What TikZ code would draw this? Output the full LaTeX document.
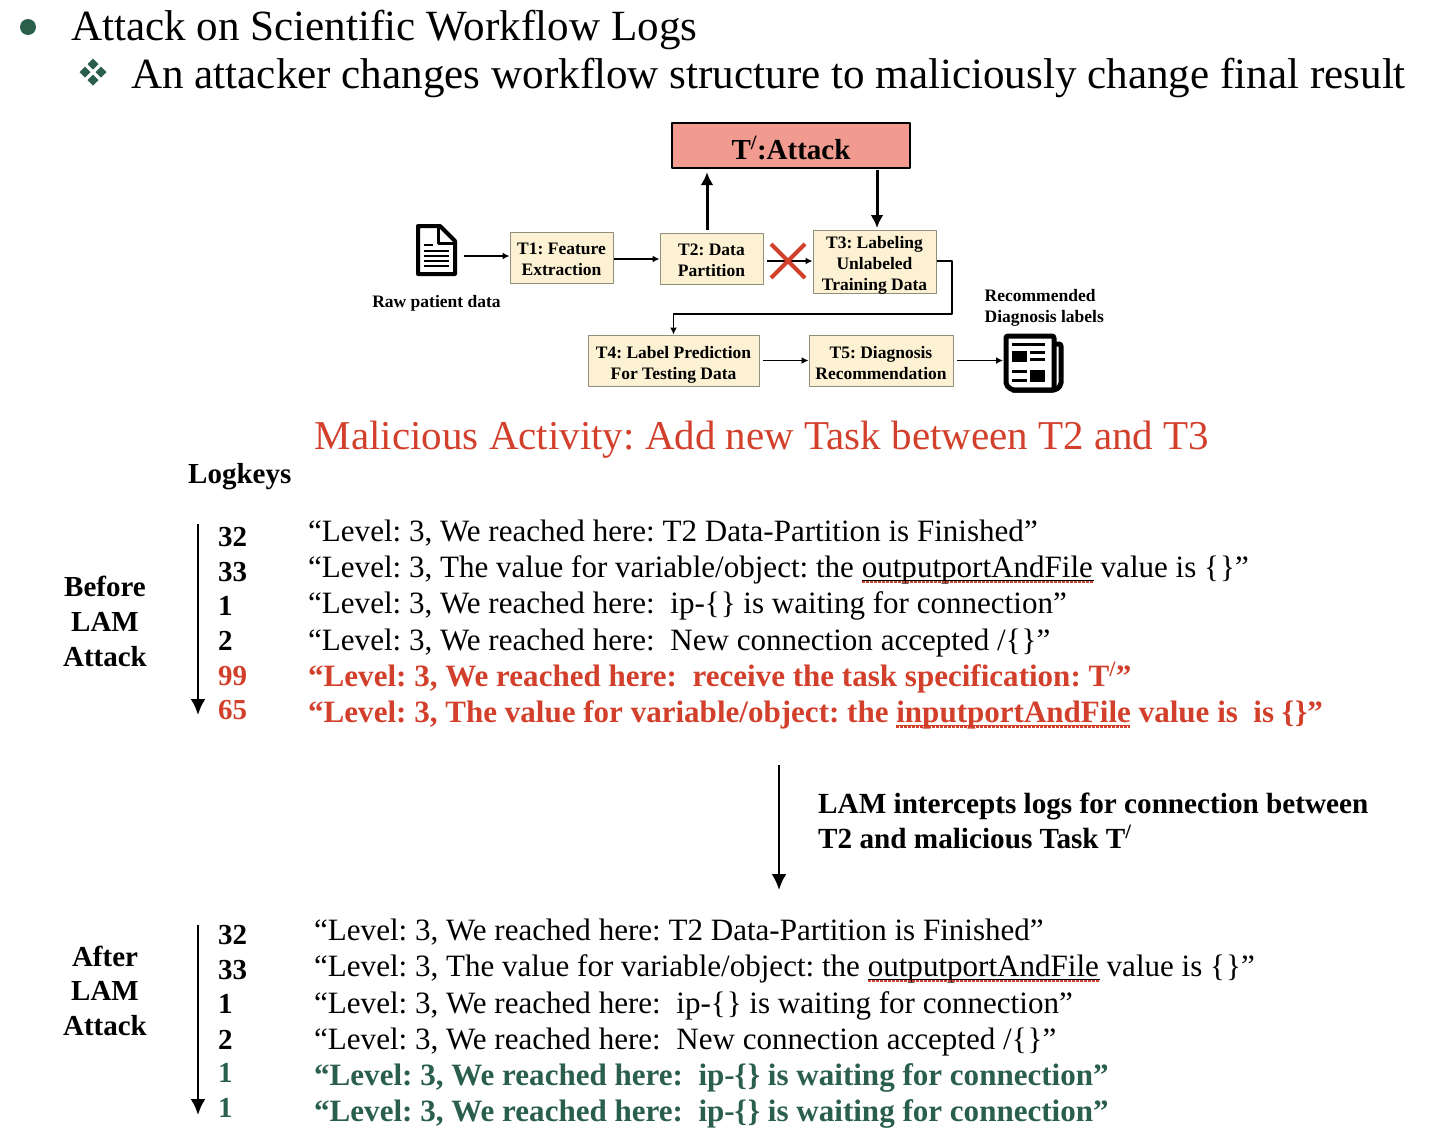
\documentclass[tikz,border=0pt]{standalone}
\usepackage{fontspec}
\setmainfont{Liberation Serif}
\usetikzlibrary{arrows.meta}
\frenchspacing
\definecolor{bulletgreen}{HTML}{2A5F4B}
\definecolor{alertred}{HTML}{D2402C}
\definecolor{attackfill}{HTML}{F19B90}
\definecolor{taskfill}{HTML}{FCF1D3}
\definecolor{taskedge}{HTML}{8F8F7C}
\newcommand{\fsz}[1]{\fontsize{#1}{#1}\selectfont}
\newcommand{\lift}[1]{\rule{0pt}{#1pt}}
\newcommand{\brpair}{\{\kern1pt\}}
\newcommand{\logOne}{“Level: 3, We reached here: T2 Data-Partition is Finished”}
\newcommand{\logTwo}{“Level: 3, The value for variable/object: the outputportAndFile value is \brpair”}
\newcommand{\logThree}{“Level: 3, We reached here:\ \ ip-\brpair{} is waiting for connection”}
\newcommand{\logFour}{“Level: 3, We reached here:\ \ New connection accepted /\brpair”}
\newcommand{\logBad}{“Level: 3, We reached here:\ \ receive the task specification: T\textsuperscript{/}”}
\newcommand{\logBadTwo}{“Level: 3, The value for variable/object: the inputportAndFile value is\ \ is \brpair”}
\tikzset{
  head/.style={anchor=base west, inner sep=0, font=\fsz{43.1}},
  logline/.style={anchor=base west, inner sep=0, font=\fsz{31.05}},
  logkey/.style={anchor=base west, inner sep=0, font=\fsz{29}\bfseries},
  sidelabel/.style={anchor=base, inner sep=0, font=\fsz{29}\bfseries},
  task/.style={draw=taskedge, line width=1pt, fill=taskfill, inner sep=0, align=center, font=\fontsize{17.5}{21}\selectfont\bfseries},
  small/.style={inner sep=0, align=left, font=\fontsize{17.5}{21}\selectfont\bfseries},
  flow/.style={-{Latex[length=7pt,width=7pt]}, line width=1.8pt},
  thick flow/.style={-{Latex[length=13pt,width=13pt]}, line width=3pt},
  time/.style={-{Latex[length=16pt,width=15pt]}, line width=2.6pt},
  spell/.style={alertred, line width=2pt, dash pattern=on 2.5pt off 1.5pt},
}
\begin{document}
\begin{tikzpicture}[x=1pt, y=-1pt, >=stealth, line join=round]
  \useasboundingbox (0,0) rectangle (1432,1138);
  % heading
  \fill[bulletgreen] (28,27) circle (8);
  \foreach \dx/\dy in {0/-8,8/0,0/8,-8/0}{
    \fill[bulletgreen] (93+\dx,72+\dy-5.5) -- ++(5.5,5.5) -- ++(-5.5,5.5) -- ++(-5.5,-5.5) -- cycle;}
  \node[head] (title) at (71,40) {Attack on Scientific Workflow Logs};
  \node[head] (subtitle) at (131,88) {An attacker changes workflow structure to maliciously change final result};
  % workflow
  \node[draw, line width=2.4pt, fill=attackfill, minimum width=238, minimum height=45, inner sep=0] (attack) at (791,145.5) {};
  \node[anchor=base, inner sep=0, font=\fsz{29}\bfseries] (attacktext) at (791,159) {T\textsuperscript{/}:Attack};
  \node[task, minimum width=103, minimum height=51] (t1) at (561.5,257.5) {\lift{15}T1: Feature\\Extraction};
  \node[task, minimum width=103, minimum height=51] (t2) at (711.5,258.5) {\lift{15}T2: Data\\Partition};
  \node[task, minimum width=123, minimum height=63] (t3) at (874.5,261.5) {};
  \node[small, align=center] (t3text) at (874.5,265) {T3: Labeling\\Unlabeled\\Training Data};
  \node[task, minimum width=171, minimum height=51] (t4) at (673.5,360.5) {\lift{20}T4: Label Prediction\\For Testing Data};
  \node[task, minimum width=144, minimum height=51] (t5) at (881,360.5) {\lift{18}T5: Diagnosis\\Recommendation};
  % document icon
  \coordinate (doc) at (437,250);
  \draw[line width=4pt, fill=white] (418,226) -- (440,226) -- (455,241) -- (455,274) -- (418,274) -- cycle;
  \draw[line width=3pt] (438,226) -- (438,243) -- (455,243);
  \foreach \y in {251,256,261,266}{
    \draw[line width=2.2pt] (424,\y) -- (449,\y);}
  \draw[line width=2.2pt] (424,245) -- (433,245);
  % newspaper icon
  \coordinate (paper) at (1033,363);
  \draw[line width=5pt, fill=white, rounded corners=2pt] (1006,336) -- (1054,336) -- (1054,390) -- (1012,390) -- (1006,385) -- cycle;
  \draw[line width=5pt, rounded corners=2pt] (1054,344) -- (1061,344) -- (1061,385) -- (1056,390) -- (1012,390);
  \fill (1012,351) rectangle (1027,362);
  \fill (1030,351) rectangle (1045,354);
  \fill (1030,358) rectangle (1045,361);
  \fill (1012,343) rectangle (1045,346);
  \fill (1012,370) rectangle (1027,373);
  \fill (1012,379) rectangle (1027,382);
  \fill (1030,370) rectangle (1045,382);
  \node[small, anchor=base] (rawlabel) at (436.5,307) {Raw patient data};
  \node[small, anchor=north west] (reclabel) at (984.5,289) {Recommended\\Diagnosis labels};
  % connectors
  \draw[flow, shorten <=27pt] (doc |- 0,256) -- (t1.west |- 0,256);
  \draw[flow] (t1.east |- 0,259) -- (t2.west |- 0,259);
  \draw[flow, shorten <=3pt] (t2.east |- 0,261) -- (t3.west |- 0,261);
  \draw[thick flow, shorten <=3pt, shorten >=3pt] ([xshift=-4.5]t2.north) -- ([xshift=-4.5]t2.north |- attack.south);
  \draw[thick flow, shorten <=2pt, shorten >=2pt] (877,168) -- (877,230);
  \draw[flow] (t3.east |- 0,261) -| (952,314) -| (t4.north);
  \draw[flow, shorten <=3pt] (t4.east) -- (t5.west);
  \draw[flow, shorten <=3pt] (t5.east) -- (1003,360.5);
  % red cross over the link
  \draw[alertred, line width=4pt] (771,244) -- (805,278) (771,278) -- (805,244);
  % log listing
  \node[anchor=base, inner sep=0, font=\fsz{41}, text=alertred] (malicious) at (762,449) {Malicious Activity: Add new Task between T2 and T3};
  \node[logkey] (logkeys) at (188,483) {Logkeys};
  \foreach \y/\lab [count=\i] in {587/Before,622/LAM,657/Attack}{
    \node[sidelabel] (before\i) at (105,\y+9) {\lab};}
  \foreach \y/\lab [count=\i] in {957/After,991/LAM,1026/Attack}{
    \node[sidelabel] (after\i) at (105,\y+9) {\lab};}
  \coordinate (beforetop) at (198,524);
  \coordinate (beforeend) at (198,715);
  \coordinate (aftertop) at (198,925);
  \coordinate (afterend) at (198,1115);
  \draw[time] (beforetop) -- (beforeend);
  \draw[time] (aftertop) -- (afterend);
  \foreach \y/\k [count=\i] in {546/32,581/33,615/1,650/2}{
    \node[logkey] (keyb\i) at (218,\y) {\k};}
  \node[logkey, text=alertred] (keyb5) at (218,685) {99};
  \node[logkey, text=alertred] (keyb6) at (218,719) {65};
  \foreach \y/\k [count=\i] in {944/32,979/33,1013/1,1049/2}{
    \node[logkey] (keya\i) at (218,\y) {\k};}
  \node[logkey, text=bulletgreen] (keya5) at (218,1082) {1};
  \node[logkey, text=bulletgreen] (keya6) at (218,1117) {1};
  \node[logline] (lb1) at (308,541) {\logOne};
  \node[logline] (lb2) at (308,577) {\logTwo};
  \node[logline] (lb3) at (308,613) {\logThree};
  \node[logline] (lb4) at (308,650) {\logFour};
  \node[logline, text=alertred, font=\fsz{31.05}\bfseries] (lb5) at (308,686) {\logBad};
  \node[logline, text=alertred, font=\fsz{31.05}\bfseries] (lb6) at (308,722) {\logBadTwo};
  \node[logline] (la1) at (314,940) {\logOne};
  \node[logline] (la2) at (314,976) {\logTwo};
  \node[logline] (la3) at (314,1013) {\logThree};
  \node[logline] (la4) at (314,1049) {\logFour};
  \node[logline, text=bulletgreen, font=\fsz{31.05}\bfseries] (la5) at (314,1085) {\logThree};
  \node[logline, text=bulletgreen, font=\fsz{31.05}\bfseries] (la6) at (314,1121) {\logThree};
  % spell-check marks
  \draw[line width=1pt] (862,580) -- (1094,580) (868,979) -- (1100,979);
  \draw[alertred, line width=1pt] (896,725) -- (1130,725);
  \draw[spell] (862,582) -- (1094,582);
  \draw[spell] (868,981) -- (1100,981);
  \draw[spell] (896,727) -- (1130,727);
  % LAM step
  \coordinate (lamtop) at (779,765);
  \coordinate (lamend) at (779,890);
  \draw[time] (lamtop) -- (lamend);
  \node[logkey, font=\fsz{29.2}\bfseries] (lamnote) at (818,813) {LAM intercepts logs for connection between};
  \node[logkey, font=\fsz{29.2}\bfseries] (lamnotetwo) at (818,848) {T2 and malicious Task T\textsuperscript{/}};
\end{tikzpicture}
\end{document}
